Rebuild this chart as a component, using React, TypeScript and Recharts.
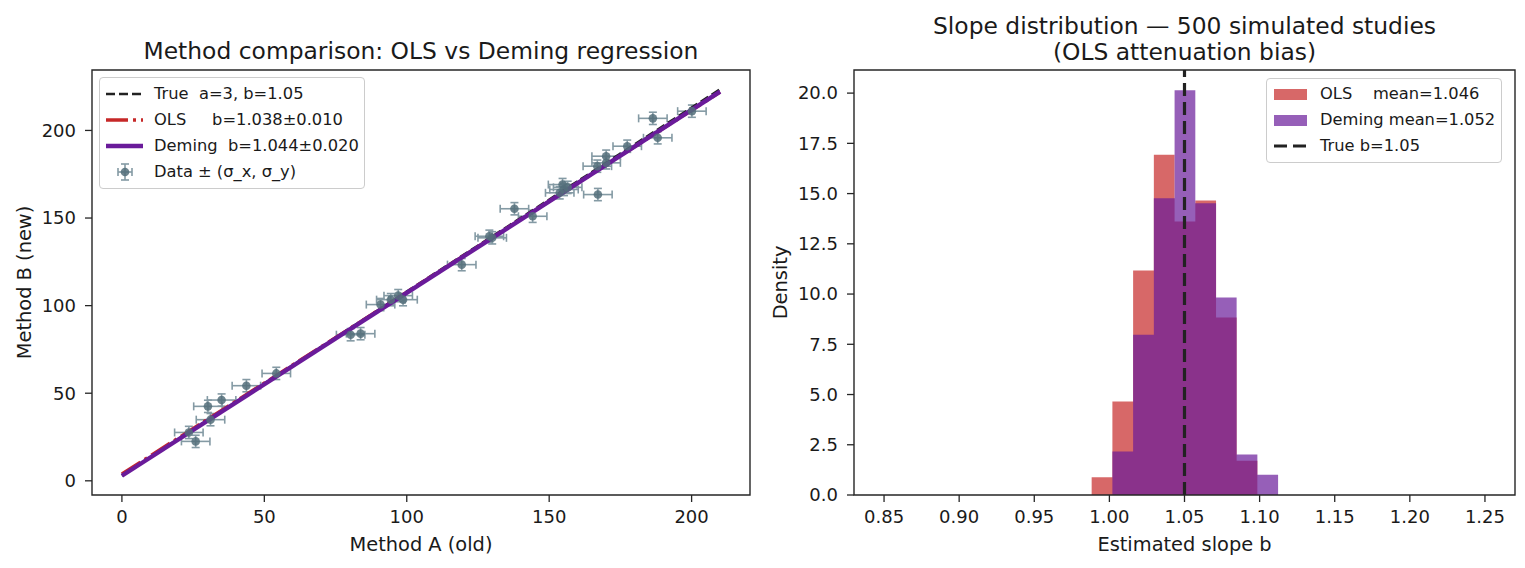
import React from 'react'
import {
  ComposedChart,
  XAxis,
  YAxis,
  Line,
  Scatter,
  ErrorBar,
  Area,
  ReferenceLine,
  ReferenceArea,
  Label,
} from 'recharts'

// ---- left panel: paired measurements ----
const methodA = [23.5, 25.9, 30.2, 31.1, 35.0, 43.7, 54.2, 80.3, 83.8, 90.8, 94.4, 97.0, 98.7, 119.3, 129.0, 130.0, 137.8, 144.2, 153.7, 154.7, 155.2, 156.5, 167.1, 166.9, 170.0, 170.0, 177.4, 186.4, 188.1, 200.1]
const methodB = [27.6, 22.5, 42.5, 34.9, 46.1, 54.3, 61.3, 83.4, 84.0, 100.6, 103.4, 105.7, 103.4, 123.4, 139.6, 138.7, 155.3, 151.0, 164.4, 169.1, 166.3, 167.5, 163.4, 179.6, 185.3, 181.5, 191.0, 206.9, 195.8, 211.0]
const sigmaX = 5
const sigmaY = 3.5

const lineRange = [0, 210]
const trueFit = [3, 1.05]     // intercept, slope
const olsFit = [3.9, 1.038]
const demingFit = [2.9, 1.044]

const leftXTicks = [0, 50, 100, 150, 200]
const leftYTicks = [0, 50, 100, 150, 200]

// ---- right panel: slope histogram (density) ----
const binEdges = [0.9882, 1.002, 1.0158, 1.0296, 1.0434, 1.0572, 1.071, 1.0847, 1.0985, 1.1123]
const olsDensity = [0.88, 4.65, 11.17, 16.93, 13.61, 14.66, 8.83, 1.71, 0]
const demingDensity = [0, 2.16, 7.98, 14.77, 20.14, 14.52, 9.83, 2.01, 1.01]
const rightXTicks = [0.85, 0.9, 0.95, 1.0, 1.05, 1.1, 1.15, 1.2, 1.25]
const rightYTicks = [0, 2.5, 5, 7.5, 10, 12.5, 15, 17.5, 20]

const points = methodA.map((x, i) => ({ x, y: methodB[i], ex: sigmaX, ey: sigmaY }))
const fitLine = (fit: number[]) => lineRange.map((x) => ({ x, y: fit[0] + fit[1] * x }))
const histRows = binEdges.map((x, i) => ({ x, ols: olsDensity[i] ?? 0, dem: demingDensity[i] ?? 0 }))

const FONT = '"DejaVu Sans", sans-serif'
const INK = '#1a1a1a'
const SPINE = '#262626'
const LABEL_SIZE = 19.4
const TITLE_SIZE = 23.4
const tickStyle = { fontSize: 18, fill: INK, fontFamily: FONT }

const VLabel = ({ viewBox, value, bx }: any) => {
  const cy = viewBox.y + viewBox.height / 2
  return (
    <text x={bx} y={cy} transform={`rotate(-90, ${bx}, ${cy})`} textAnchor="middle"
      fontSize={LABEL_SIZE} fill={INK} fontFamily={FONT}>{value}</text>
  )
}

const Dot = (props: any) => (
  <circle cx={props.cx} cy={props.cy} r={4.3} fill="#546e7a" fillOpacity={0.85} />
)

const legendBox = {
  position: 'absolute' as const,
  background: 'rgba(255,255,255,0.8)',
  border: '1px solid #cccccc',
  borderRadius: 4,
  boxSizing: 'border-box' as const,
  fontFamily: FONT,
  fontSize: 16.3,
  color: INK,
  whiteSpace: 'pre' as const,
}

const Row = ({ top, textLeft, icon, text }: any) => (
  <div style={{ position: 'absolute', left: 0, top, height: 26, width: '100%' }}>
    <svg style={{ position: 'absolute', left: 0, top: 0 }} width={textLeft} height={26}>{icon}</svg>
    <span style={{ position: 'absolute', left: textLeft, top: 3, lineHeight: '20px' }}>{text}</span>
  </div>
)

const App = () => {
  return (
    <div style={{ position: 'absolute', left: 0, top: 0, width: 1525, height: 568, background: '#fff', fontFamily: FONT }}>
      {/* left: method comparison */}
      <div style={{ position: 'absolute', left: 0, top: 0 }}>
        <ComposedChart width={760} height={568} margin={{ top: 70, right: 10, bottom: 0, left: 0 }}>
          <XAxis type="number" dataKey="x" domain={[-10.5, 220.5]} ticks={leftXTicks} allowDataOverflow
            height={73} tickSize={7} tickMargin={8} axisLine={false} tickLine={{ stroke: SPINE, strokeWidth: 1.3 }} tick={tickStyle}>
            <Label value="Method A (old)" position="insideBottom" offset={17} style={{ fontSize: LABEL_SIZE, fill: INK, fontFamily: FONT }} />
          </XAxis>
          <YAxis type="number" domain={[-8.1, 234.5]} ticks={leftYTicks} allowDataOverflow
            width={92} tickSize={7} tickMargin={9} axisLine={false} tickLine={{ stroke: SPINE, strokeWidth: 1.3 }} tick={tickStyle}>
            <Label value="Method B (new)" content={<VLabel bx={31} />} />
          </YAxis>
          <Scatter data={points} dataKey="y" shape={Dot} isAnimationActive={false}>
            <ErrorBar dataKey="ex" direction="x" width={4} stroke="#849aa4" strokeWidth={1.6} />
            <ErrorBar dataKey="ey" direction="y" width={4} stroke="#849aa4" strokeWidth={1.6} />
          </Scatter>
          <Line data={fitLine(trueFit)} dataKey="y" stroke="#222222" strokeWidth={2.6} strokeDasharray="9 4"
            dot={false} activeDot={false} isAnimationActive={false} />
          <Line data={fitLine(olsFit)} dataKey="y" stroke="#c62828" strokeWidth={3.4} strokeDasharray="22 5 3 5"
            dot={false} activeDot={false} isAnimationActive={false} />
          <Line data={fitLine(demingFit)} dataKey="y" stroke="#6a1b9a" strokeWidth={4.4}
            dot={false} activeDot={false} isAnimationActive={false} />
          <ReferenceArea x1={-10.5} x2={220.5} y1={-8.1} y2={234.5} fill="none" stroke={SPINE} strokeWidth={1.4} ifOverflow="visible" />
        </ComposedChart>
      </div>

      {/* right: slope distribution */}
      <div style={{ position: 'absolute', left: 762, top: 0 }}>
        <ComposedChart width={763} height={568} data={histRows} margin={{ top: 70, right: 10, bottom: 0, left: 0 }}>
          <XAxis type="number" dataKey="x" domain={[0.83, 1.27]} ticks={rightXTicks} allowDataOverflow
            tickFormatter={(v: number) => v.toFixed(2)}
            height={73} tickSize={7} tickMargin={8} axisLine={false} tickLine={{ stroke: SPINE, strokeWidth: 1.3 }} tick={tickStyle}>
            <Label value="Estimated slope b" position="insideBottom" offset={17} style={{ fontSize: LABEL_SIZE, fill: INK, fontFamily: FONT }} />
          </XAxis>
          <YAxis type="number" domain={[0, 21.15]} ticks={rightYTicks} allowDataOverflow
            tickFormatter={(v: number) => v.toFixed(1)}
            width={92} tickSize={7} tickMargin={9} axisLine={false} tickLine={{ stroke: SPINE, strokeWidth: 1.3 }} tick={tickStyle}>
            <Label value="Density" content={<VLabel bx={25} />} />
          </YAxis>
          <Area dataKey="ols" type="stepAfter" fill="#c62828" fillOpacity={0.7} stroke="none" isAnimationActive={false} activeDot={false} />
          <Area dataKey="dem" type="stepAfter" fill="#6a1b9a" fillOpacity={0.7} stroke="none" isAnimationActive={false} activeDot={false} />
          <ReferenceLine x={1.05} stroke="#222222" strokeWidth={3.2} strokeDasharray="13 6" />
          <ReferenceArea x1={0.83} x2={1.27} y1={0} y2={21.15} fill="none" stroke={SPINE} strokeWidth={1.4} ifOverflow="visible" />
        </ComposedChart>
      </div>

      {/* titles */}
      <svg style={{ position: 'absolute', left: 0, top: 0, pointerEvents: 'none' }} width={1525} height={70}>
        <text x={421} y={59} textAnchor="middle" fontSize={TITLE_SIZE} fill={INK} fontFamily={FONT}>
          Method comparison: OLS vs Deming regression
        </text>
        <text x={1184.5} y={34} textAnchor="middle" fontSize={TITLE_SIZE} fill={INK} fontFamily={FONT}>
          Slope distribution — 500 simulated studies
        </text>
        <text x={1184.5} y={60} textAnchor="middle" fontSize={TITLE_SIZE} fill={INK} fontFamily={FONT}>
          (OLS attenuation bias)
        </text>
      </svg>

      {/* left legend */}
      <div style={{ ...legendBox, left: 99, top: 77, width: 266, height: 112 }}>
        <Row top={3} textLeft={54} text="True  a=3, b=1.05"
          icon={<line x1={6} x2={43} y1={13} y2={13} stroke="#222222" strokeWidth={2.6} strokeDasharray="9 4" />} />
        <Row top={29} textLeft={54} text="OLS     b=1.038±0.010"
          icon={<line x1={6} x2={43} y1={13} y2={13} stroke="#c62828" strokeWidth={3.4} strokeDasharray="22 5 3 5" />} />
        <Row top={55} textLeft={54} text="Deming  b=1.044±0.020"
          icon={<line x1={6} x2={43} y1={13} y2={13} stroke="#6a1b9a" strokeWidth={4.4} />} />
        <Row top={81} textLeft={54} text="Data ± (σ_x, σ_y)"
          icon={
            <g stroke="#849aa4" strokeWidth={1.6}>
              <line x1={18} x2={32} y1={13} y2={13} />
              <line x1={25} x2={25} y1={5} y2={21} />
              <line x1={21} x2={29} y1={5} y2={5} />
              <line x1={21} x2={29} y1={21} y2={21} />
              <line x1={18} x2={18} y1={9} y2={17} />
              <line x1={32} x2={32} y1={9} y2={17} />
              <circle cx={25} cy={13} r={4.3} fill="#546e7a" fillOpacity={0.85} stroke="none" />
            </g>
          } />
      </div>

      {/* right legend */}
      <div style={{ ...legendBox, left: 1266, top: 78, width: 236, height: 85 }}>
        <Row top={2} textLeft={53} text="OLS    mean=1.046"
          icon={<rect x={7} y={8} width={33} height={11} fill="#c62828" fillOpacity={0.7} />} />
        <Row top={28} textLeft={53} text="Deming mean=1.052"
          icon={<rect x={7} y={8} width={33} height={11} fill="#6a1b9a" fillOpacity={0.7} />} />
        <Row top={54} textLeft={53} text="True b=1.05"
          icon={<line x1={7} x2={40} y1={13} y2={13} stroke="#222222" strokeWidth={3.2} strokeDasharray="13 6" />} />
      </div>
    </div>
  )
}

export default App
